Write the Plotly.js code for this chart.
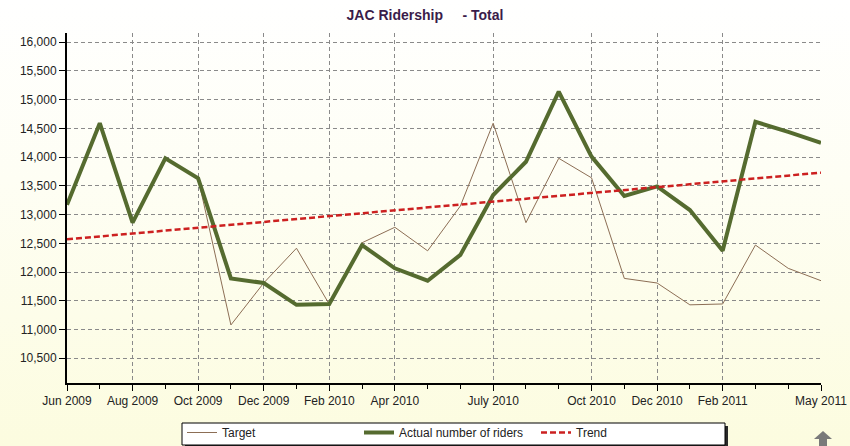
<!DOCTYPE html>
<html>
<head>
<meta charset="utf-8">
<script src="https://cdn.plot.ly/plotly-3.0.1.min.js"></script>
<style>
  html, body { margin: 0; padding: 0; }
  body { width: 850px; height: 446px; background: linear-gradient(to bottom, #ffffff 0%, #fefef4 40%, #fcfcdf 100%); }
  #chart { width: 850px; height: 446px; }
</style>
</head>
<body>
<div id="chart"></div>
<script>
// ---- data ----
const months = ['Jun 2009','Jul 2009','Aug 2009','Sep 2009','Oct 2009','Nov 2009','Dec 2009','Jan 2010',
                'Feb 2010','Mar 2010','Apr 2010','May 2010','Jun 2010','Jul 2010','Aug 2010','Sep 2010',
                'Oct 2010','Nov 2010','Dec 2010','Jan 2011','Feb 2011','Mar 2011','Apr 2011','May 2011'];
const targetRiders = [13170,14590,12860,13980,13630,11080,11810,12415,
                      11440,12510,12780,12370,13150,14590,12860,13980,
                      13640,11890,11810,11430,11445,12470,12065,11850];
const actualRiders = [13170,14590,12860,13980,13630,11890,11810,11430,
                      11445,12470,12065,11850,12300,13340,13920,15140,
                      14010,13325,13490,13080,12370,14615,14440,14250];
const trendMonths = ['Jun 2009','May 2011'];
const trendValues = [12570, 13730];
const tickMonths = ['Jun 2009','Aug 2009','Oct 2009','Dec 2009','Feb 2010','Apr 2010','Jul 2010','Oct 2010','Dec 2010','Feb 2011','May 2011'];
const tickLabels = ['Jun 2009','Aug 2009','Oct 2009','Dec 2009','Feb 2010','Apr 2010','July 2010','Oct 2010','Dec 2010','Feb 2011','May 2011'];
const seriesNames = ['Target','Actual number of riders','Trend'];
const chartTitle = 'JAC Ridership&nbsp;&nbsp;&nbsp;&nbsp;&nbsp;- Total';

const idx = m => months.indexOf(m);
const xs = months.map((m) => idx(m));

const FONT = '"Liberation Sans", Arial, sans-serif';

const traces = [
  { x: xs, y: targetRiders, name: seriesNames[0], type: 'scatter', mode: 'lines',
    line: { color: '#8c6e55', width: 1 } },
  { x: xs, y: actualRiders, name: seriesNames[1], type: 'scatter', mode: 'lines',
    line: { color: '#556b2f', width: 4 } },
  { x: trendMonths.map(idx), y: trendValues, name: seriesNames[2], type: 'scatter', mode: 'lines',
    line: { color: '#cc2020', width: 2.5, dash: '6px,3px' } }
];

// pixel -> paper helpers for the decorative legend frame and icon
const PL = 67, PR = 821, PT = 33, PB = 383;
const px2x = p => (p - PL) / (PR - PL);
const px2y = p => (PB - p) / (PB - PT);

const layout = {
  width: 850, height: 446,
  margin: { l: 67, r: 29, t: 33, b: 63 },
  paper_bgcolor: 'rgba(0,0,0,0)',
  plot_bgcolor: 'rgba(0,0,0,0)',
  font: { family: FONT, size: 12, color: '#222' },
  title: { text: chartTitle, font: { family: FONT, size: 14, color: '#3a1c4a', weight: 'bold' },
           xref: 'container', x: 0.5, xanchor: 'center', yref: 'container', y: 1 - 15/446, yanchor: 'middle' },
  showlegend: true,
  legend: {
    orientation: 'h', xref: 'container', x: 182/850, xanchor: 'left',
    yref: 'container', y: 1 - 418/446, yanchor: 'top',
    bgcolor: 'rgba(0,0,0,0)', borderwidth: 0,
    font: { family: FONT, size: 12, color: '#222' },
    entrywidth: 132, entrywidthmode: 'pixels', traceorder: 'normal'
  },
  xaxis: {
    range: [0, 23], tickmode: 'array', tickvals: tickMonths.map(idx), ticktext: tickLabels,
    showline: true, linecolor: '#000', linewidth: 2,
    ticks: 'outside', ticklen: 6, tickcolor: '#000', tickwidth: 1,
    showgrid: true, gridcolor: '#8a8a8a', griddash: '4px,3px', gridwidth: 1,
    zeroline: false, fixedrange: true,
    minor: { tickmode: 'linear', tick0: 0, dtick: 1, ticks: 'outside', ticklen: 4, tickcolor: '#000', showgrid: false },
    tickfont: { family: FONT, size: 12, color: '#222' }
  },
  yaxis: {
    range: [10070, 16160], tickmode: 'linear', tick0: 10000, dtick: 500, tickformat: ',d',
    showline: true, linecolor: '#000', linewidth: 2,
    ticks: 'outside', ticklen: 6, tickcolor: '#000', tickwidth: 1,
    showgrid: true, gridcolor: '#8a8a8a', griddash: '4px,3px', gridwidth: 1,
    zeroline: false, fixedrange: true,
    tickfont: { family: FONT, size: 12, color: '#222' }
  },
  shapes: [
    // legend drop shadow
    { type: 'rect', xref: 'paper', yref: 'paper', layer: 'above',
      x0: px2x(185), x1: px2x(728), y0: px2y(426), y1: px2y(448),
      fillcolor: '#2a2a2a', line: { width: 0 } },
    // legend frame
    { type: 'rect', xref: 'paper', yref: 'paper', layer: 'above',
      x0: px2x(182), x1: px2x(725), y0: px2y(423), y1: px2y(445),
      fillcolor: '#ffffff', line: { color: '#000', width: 1 } },
    // scroll-up arrow icon
    { type: 'path', xref: 'paper', yref: 'paper', layer: 'above',
      path: 'M ' + px2x(823) + ',' + px2y(431) + ' L ' + px2x(832) + ',' + px2y(439) +
            ' L ' + px2x(827) + ',' + px2y(439) + ' L ' + px2x(827) + ',' + px2y(446) +
            ' L ' + px2x(819) + ',' + px2y(446) + ' L ' + px2x(819) + ',' + px2y(439) +
            ' L ' + px2x(814) + ',' + px2y(439) + ' Z',
      fillcolor: '#7a7a7a', line: { width: 0 } }
  ]
};

Plotly.newPlot('chart', traces, layout, { displayModeBar: false, staticPlot: true });
</script>
</body>
</html>
